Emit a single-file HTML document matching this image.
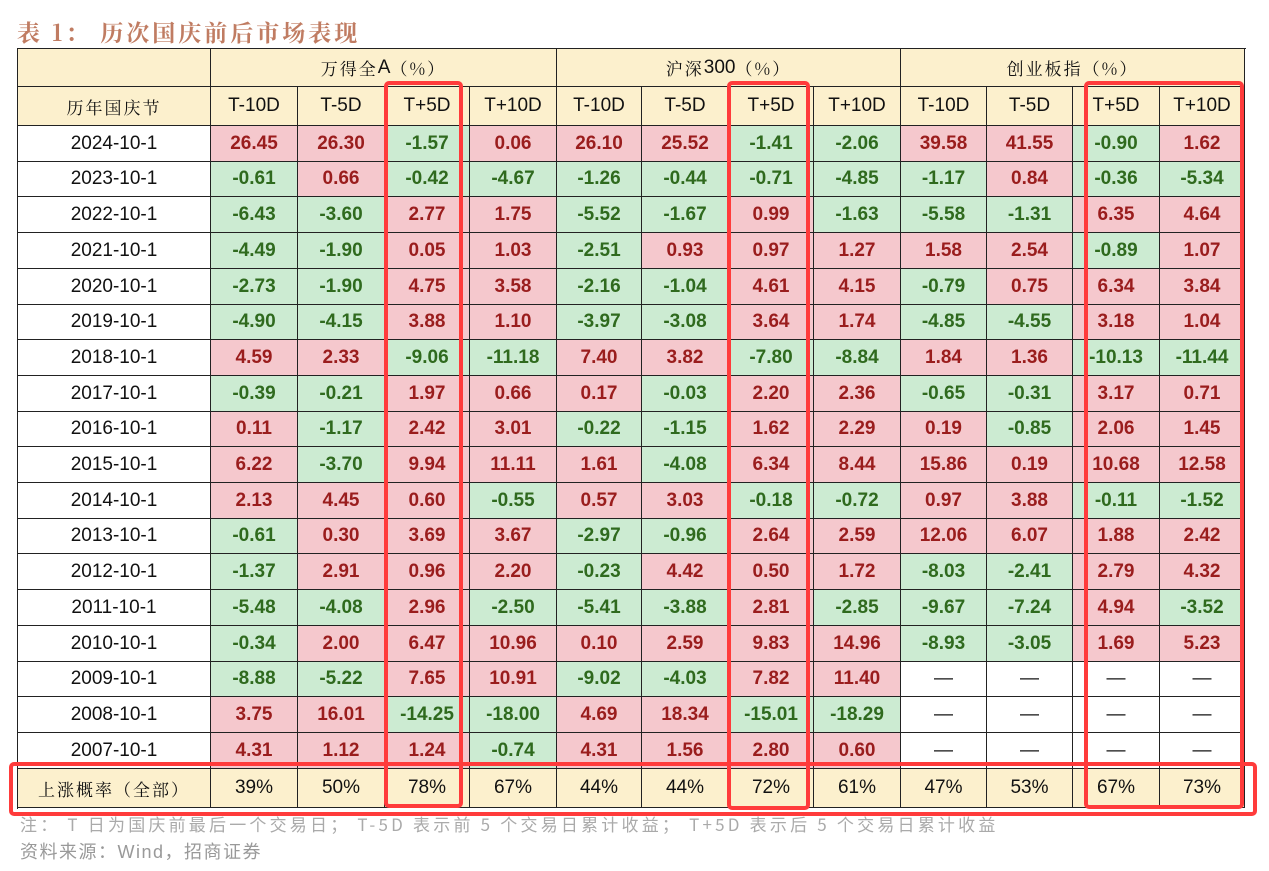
<!DOCTYPE html>
<html><head><meta charset="utf-8">
<style>
body{margin:0;width:1269px;height:871px;background:#fff;position:relative;overflow:hidden;font-family:"Liberation Sans","Noto Sans CJK SC",sans-serif;}
.c{position:absolute;box-sizing:border-box;display:flex;align-items:center;justify-content:center;border-right:1px solid #222;border-bottom:1px solid #222;font-size:19px;color:#111;}
.v{font-weight:bold;}
.pos{background:#f5c8cd;color:#9a1d1d;}
.neg{background:#ccebd2;color:#2f6a1e;}
.hd{background:#fcf0cd;}
.cn{font-family:"Noto Serif CJK SC","Noto Sans CJK SC",serif;font-size:17px;letter-spacing:2px;}
.lat{font-family:"Liberation Sans",sans-serif;font-size:19px;letter-spacing:0;}
.box{position:absolute;border:4px solid #ff3b3b;border-radius:5px;box-sizing:border-box;}
</style></head><body>
<div style="position:absolute;left:17px;top:15px;font-size:23px;font-weight:bold;color:#c07c62;font-family:'Noto Serif CJK SC',serif;letter-spacing:3px;">表 1&#xFF1A; 历次国庆前后市场表现</div>
<div id="tbl" style="position:absolute;left:17px;top:48px;width:1228px;height:760px;border-left:1px solid #222;border-top:1px solid #222;"></div>
<div style="position:absolute;left:20px;top:811px;font-size:17px;color:#aaa;font-family:'Noto Sans CJK SC',sans-serif;letter-spacing:3.2px;white-space:nowrap;">注&#xFF1A; T 日为国庆前最后一个交易日&#xFF1B; T-5D 表示前 5 个交易日累计收益&#xFF1B; T+5D 表示后 5 个交易日累计收益</div>
<div style="position:absolute;left:20px;top:838px;font-size:18px;color:#999;font-family:'Liberation Sans','Noto Sans CJK SC',sans-serif;letter-spacing:1.5px;">资料来源&#xFF1A;Wind&#xFF0C;招商证券</div>
<div class="box" style="left:384px;top:81px;width:79px;height:727px;"></div>
<div class="box" style="left:727px;top:81px;width:83px;height:729px;"></div>
<div class="box" style="left:1084px;top:81px;width:160px;height:728px;"></div>
<div class="box" style="left:9px;top:762px;width:1248px;height:54px;"></div>
<script>
const years=["2024-10-1","2023-10-1","2022-10-1","2021-10-1","2020-10-1","2019-10-1","2018-10-1","2017-10-1","2016-10-1","2015-10-1","2014-10-1","2013-10-1","2012-10-1","2011-10-1","2010-10-1","2009-10-1","2008-10-1","2007-10-1"];
const groups=["万得全A\uFF08%\uFF09","沪深300\uFF08%\uFF09","创业板指\uFF08%\uFF09"];
const periods=["T-10D","T-5D","T+5D","T+10D"];
const windA=[[26.45,26.30,-1.57,0.06],[-0.61,0.66,-0.42,-4.67],[-6.43,-3.60,2.77,1.75],[-4.49,-1.90,0.05,1.03],[-2.73,-1.90,4.75,3.58],[-4.90,-4.15,3.88,1.10],[4.59,2.33,-9.06,-11.18],[-0.39,-0.21,1.97,0.66],[0.11,-1.17,2.42,3.01],[6.22,-3.70,9.94,11.11],[2.13,4.45,0.60,-0.55],[-0.61,0.30,3.69,3.67],[-1.37,2.91,0.96,2.20],[-5.48,-4.08,2.96,-2.50],[-0.34,2.00,6.47,10.96],[-8.88,-5.22,7.65,10.91],[3.75,16.01,-14.25,-18.00],[4.31,1.12,1.24,-0.74]];
const hs300=[[26.10,25.52,-1.41,-2.06],[-1.26,-0.44,-0.71,-4.85],[-5.52,-1.67,0.99,-1.63],[-2.51,0.93,0.97,1.27],[-2.16,-1.04,4.61,4.15],[-3.97,-3.08,3.64,1.74],[7.40,3.82,-7.80,-8.84],[0.17,-0.03,2.20,2.36],[-0.22,-1.15,1.62,2.29],[1.61,-4.08,6.34,8.44],[0.57,3.03,-0.18,-0.72],[-2.97,-0.96,2.64,2.59],[-0.23,4.42,0.50,1.72],[-5.41,-3.88,2.81,-2.85],[0.10,2.59,9.83,14.96],[-9.02,-4.03,7.82,11.40],[4.69,18.34,-15.01,-18.29],[4.31,1.56,2.80,0.60]];
const cyb=[[39.58,41.55,-0.90,1.62],[-1.17,0.84,-0.36,-5.34],[-5.58,-1.31,6.35,4.64],[1.58,2.54,-0.89,1.07],[-0.79,0.75,6.34,3.84],[-4.85,-4.55,3.18,1.04],[1.84,1.36,-10.13,-11.44],[-0.65,-0.31,3.17,0.71],[0.19,-0.85,2.06,1.45],[15.86,0.19,10.68,12.58],[0.97,3.88,-0.11,-1.52],[12.06,6.07,1.88,2.42],[-8.03,-2.41,2.79,4.32],[-9.67,-7.24,4.94,-3.52],[-8.93,-3.05,1.69,5.23],[null,null,null,null],[null,null,null,null],[null,null,null,null]];
const riseProb=["39%","50%","78%","67%","44%","44%","72%","61%","47%","53%","67%","73%"];
const T=document.getElementById('tbl');
const colX=[0,193,280,367,452,539,624,711,796,883,969,1055,1142,1227];
const rowH=35.7;
function cell(x,y,w,h,txt,cls,name){const d=document.createElement('div');d.className='c '+cls;d.style.left=x+'px';d.style.top=y+'px';d.style.width=w+'px';d.style.height=h+'px';d.textContent=txt;


T.appendChild(d);return d;}
cell(0,0,colX[1],38,'','hd','header-corner');
groups.forEach((g,i)=>{const d=cell(colX[1+4*i],0,colX[5+4*i]-colX[1+4*i],38,'','hd cn','group-header');
 d.innerHTML=g.replace(/([A-Za-z0-9]+)/,'<span class="lat">$1</span>');});
cell(0,38,colX[1],39,'历年国庆节','hd cn','year-header');
for(let i=0;i<12;i++)cell(colX[1+i],38,colX[2+i]-colX[1+i],39,periods[i%4],'hd','period-header');
const data=[windA,hs300,cyb];
years.forEach((y,r)=>{const top=Math.round(77+r*rowH);const h=Math.round(77+(r+1)*rowH)-top;
 cell(0,top,colX[1],h,y,'','year-label');
 for(let g=0;g<3;g++)for(let p=0;p<4;p++){const v=data[g][r][p];const k=1+g*4+p;
  if(v===null)cell(colX[k],top,colX[k+1]-colX[k],h,'—','','empty-cell');
  else cell(colX[k],top,colX[k+1]-colX[k],h,v.toFixed(2),'v '+(v>=0?'pos':'neg'),'value-cell');}
});
const bt=Math.round(77+18*rowH);
cell(0,bt,colX[1],759-bt,'上涨概率\uFF08全部\uFF09','hd cn','rise-prob-label');
riseProb.forEach((v,i)=>cell(colX[1+i],bt,colX[2+i]-colX[1+i],759-bt,v,'hd','rise-prob-cell'));
</script>
</body></html>
